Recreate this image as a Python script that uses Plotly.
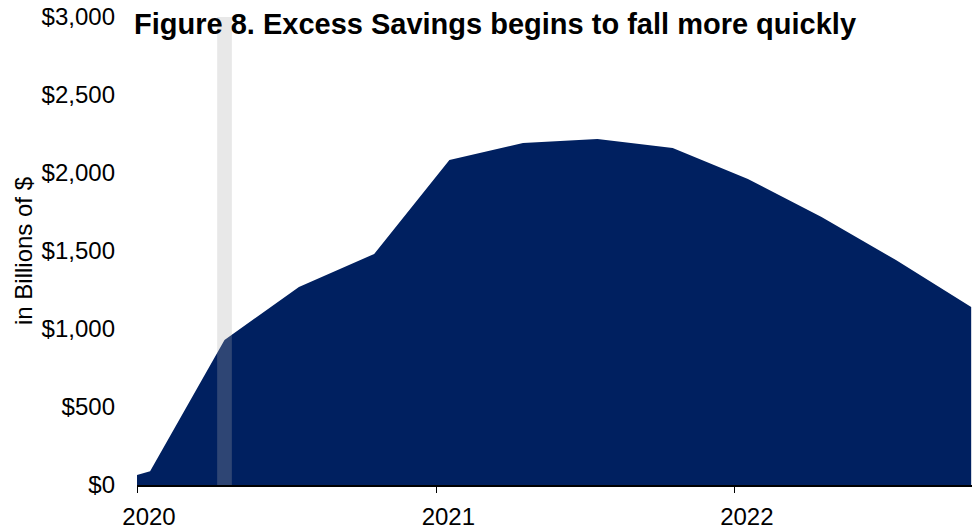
import plotly.graph_objects as go

# ---- data ----
dates = ["2020-01-01", "2020-01-17", "2020-04-17", "2020-07-17", "2020-10-17",
         "2021-01-17", "2021-04-17", "2021-07-17", "2021-10-17",
         "2022-01-17", "2022-04-17", "2022-07-17", "2022-10-17"]
excess_savings = [64, 88, 930, 1270, 1481, 2083, 2192, 2218, 2160, 1961, 1718, 1442, 1141]

recession_band = ["2020-04-08", "2020-04-26"]
x_range = ["2020-01-01", "2022-10-18"]

y_ticks = [0, 500, 1000, 1500, 2000, 2500, 3000]
y_tick_labels = ["$0", "$500", "$1,000", "$1,500", "$2,000", "$2,500", "$3,000"]
x_ticks = ["2020-01-01", "2021-01-01", "2022-01-01"]
x_tick_labels = ["2020", "2021", "2022"]

title_text = "Figure 8. Excess Savings begins to fall more quickly"
y_title = "in Billions of $"

NAVY = "#002060"
FONT = "Liberation Sans, Arial, sans-serif"

W, H = 973, 532

fig = go.Figure()
fig.add_trace(go.Scatter(
    x=dates, y=excess_savings, mode="lines", fill="tozeroy",
    line=dict(width=0, color=NAVY), fillcolor=NAVY,
    hoverinfo="skip", showlegend=False,
))

fig.add_shape(type="rect", xref="x", yref="y",
              x0=recession_band[0], x1=recession_band[1], y0=0, y1=3000,
              fillcolor="rgba(170,170,170,0.27)", line=dict(width=0), layer="above")

fig.update_layout(
    width=W, height=H,
    margin=dict(l=137, r=1, t=17, b=47, autoexpand=False),
    paper_bgcolor="white", plot_bgcolor="white",
    font=dict(family=FONT, size=24, color="black"),
    title=dict(text="<b>" + title_text + "</b>", x=134 / W, xref="container", xanchor="left",
               y=1 - 24 / H, yref="container", yanchor="middle",
               font=dict(family=FONT, size=29, color="black")),
    showlegend=False,
)
fig.update_xaxes(
    type="date", range=x_range, tickvals=x_ticks, ticktext=x_tick_labels,
    showgrid=False, zeroline=False, showline=True, linecolor="black", linewidth=2,
    ticks="outside", ticklen=6, tickcolor="black", tickwidth=1,
    ticklabelshift=12, ticklabelstandoff=3, automargin=False,
    tickfont=dict(family=FONT, size=24, color="black"),
)
fig.update_yaxes(
    range=[0, 3000], tickvals=y_ticks, ticktext=y_tick_labels,
    showgrid=False, zeroline=False, showline=False, ticks="",
    ticklabelstandoff=21, automargin=False,
    tickfont=dict(family=FONT, size=24, color="black"),
    title=dict(text=y_title, standoff=2, font=dict(family=FONT, size=24, color="black")),
)

# remove the default 8px page margin so the figure fills the window exactly
fig.write_html("out.html", config={"displayModeBar": False},
               post_script="document.body.style.margin='0px';")
